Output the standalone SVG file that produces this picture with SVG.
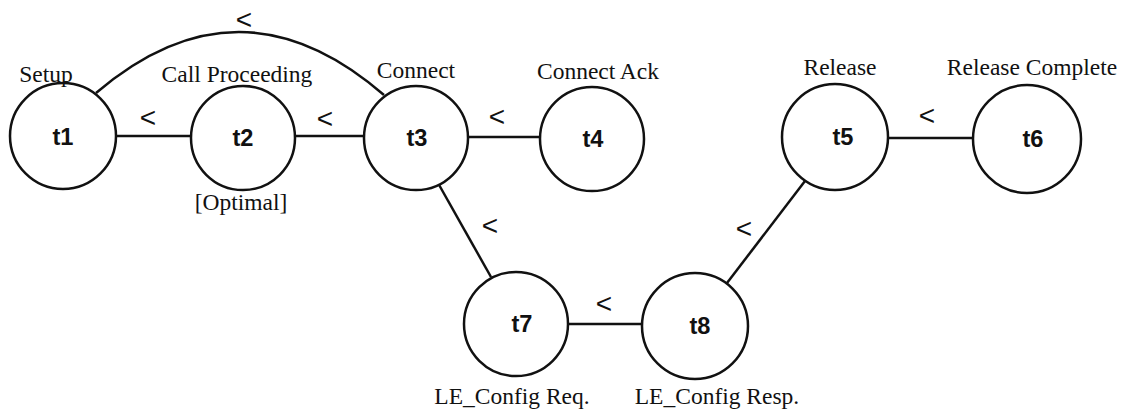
<svg xmlns="http://www.w3.org/2000/svg" width="1129" height="413" viewBox="0 0 1129 413">
  <style>
    .node { fill: #fff; stroke: #111; stroke-width: 2.5; }
    .id { font-family: "Liberation Sans", Arial, sans-serif; font-weight: bold; font-size: 23px; text-anchor: middle; fill: #111; }
    .msg { font-family: "Liberation Serif", "Times New Roman", serif; font-size: 23.5px; text-anchor: middle; fill: #111; }
    .edge { fill: none; stroke: #111; stroke-width: 2.5; }
    .lt { font-family: "Liberation Sans", Arial, sans-serif; font-size: 28px; text-anchor: middle; fill: #111; }
  </style>
  <rect width="1129" height="413" fill="#fff"/>

  <!-- connectors with their ordering marks -->
  <g id="connectors">
    <path class="edge" d="M96,93 Q240,-30 384,95"/>
    <line class="edge" x1="116" y1="136" x2="191" y2="136"/>
    <line class="edge" x1="295" y1="136" x2="364" y2="136"/>
    <line class="edge" x1="468" y1="137" x2="540" y2="137"/>
    <line class="edge" x1="888" y1="138" x2="972" y2="138"/>
    <line class="edge" x1="568" y1="324" x2="642" y2="324"/>
    <line class="edge" x1="438" y1="183" x2="491" y2="277"/>
    <line class="edge" x1="727" y1="283" x2="805" y2="181"/>
    <text class="lt" x="244" y="29">&lt;</text>
    <text class="lt" x="148" y="127">&lt;</text>
    <text class="lt" x="325" y="128">&lt;</text>
    <text class="lt" x="497" y="126">&lt;</text>
    <text class="lt" x="927" y="125">&lt;</text>
    <text class="lt" x="490" y="235">&lt;</text>
    <text class="lt" x="744" y="238">&lt;</text>
    <text class="lt" x="604" y="313">&lt;</text>
  </g>

  <g id="t1">
    <circle class="node" cx="63" cy="136" r="53"/>
    <text class="id" x="63" y="145" textLength="21" lengthAdjust="spacingAndGlyphs">t1</text>
    <text class="msg" x="46" y="82">Setup</text>
  </g>
  <g id="t2">
    <circle class="node" cx="243" cy="138" r="52"/>
    <text class="id" x="243" y="146" textLength="21" lengthAdjust="spacingAndGlyphs">t2</text>
    <text class="msg" x="237" y="82">Call Proceeding</text>
    <text class="msg" x="241" y="210">[Optimal]</text>
  </g>
  <g id="t3">
    <circle class="node" cx="416" cy="138" r="52"/>
    <text class="id" x="417" y="146" textLength="21" lengthAdjust="spacingAndGlyphs">t3</text>
    <text class="msg" x="416" y="78">Connect</text>
  </g>
  <g id="t4">
    <circle class="node" cx="592" cy="139" r="52"/>
    <text class="id" x="593" y="147" textLength="21" lengthAdjust="spacingAndGlyphs">t4</text>
    <text class="msg" x="598" y="79">Connect Ack</text>
  </g>
  <g id="t5">
    <circle class="node" cx="835" cy="137" r="53"/>
    <text class="id" x="843" y="145" textLength="21" lengthAdjust="spacingAndGlyphs">t5</text>
    <text class="msg" x="840" y="75">Release</text>
  </g>
  <g id="t6">
    <circle class="node" cx="1027" cy="139" r="54"/>
    <text class="id" x="1033" y="147" textLength="21" lengthAdjust="spacingAndGlyphs">t6</text>
    <text class="msg" x="1032" y="75">Release Complete</text>
  </g>
  <g id="t7">
    <circle class="node" cx="516" cy="324" r="52"/>
    <text class="id" x="522" y="332" textLength="21" lengthAdjust="spacingAndGlyphs">t7</text>
    <text class="msg" x="512" y="404">LE_Config Req.</text>
  </g>
  <g id="t8">
    <circle class="node" cx="695" cy="326" r="53"/>
    <text class="id" x="700" y="334" textLength="21" lengthAdjust="spacingAndGlyphs">t8</text>
    <text class="msg" x="717" y="404">LE_Config Resp.</text>
  </g>
</svg>
